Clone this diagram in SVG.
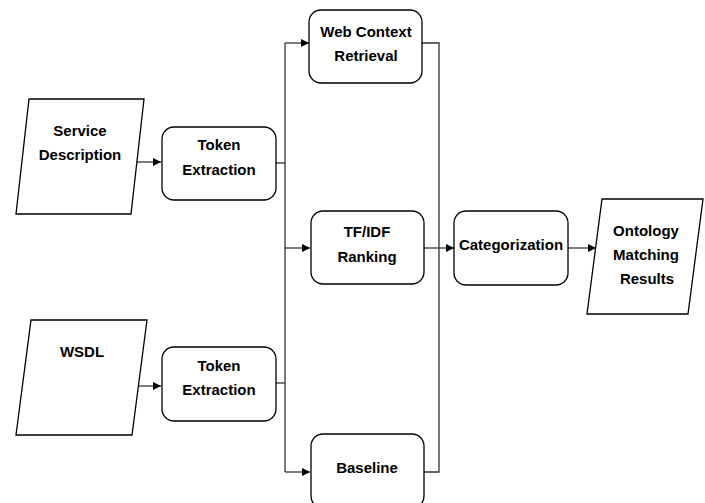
<svg xmlns="http://www.w3.org/2000/svg" width="705" height="503" viewBox="0 0 705 503">
<defs>
<marker id="arr" viewBox="0 0 10 10" refX="10" refY="5" markerWidth="9" markerHeight="8" markerUnits="userSpaceOnUse" orient="auto">
<path d="M0,0 L10,5 L0,10 z" fill="#000"/>
</marker>
<style>
.box{fill:#fff;stroke:#000;stroke-width:1.3}
.conn{fill:none;stroke:#333;stroke-width:1.3}
text{font-family:"Liberation Sans",Arial,sans-serif;font-weight:bold;font-size:15px;fill:#000;text-anchor:middle}
</style>
</defs>
<rect width="705" height="503" fill="#fff"/>
<g id="connectors">
<path class="conn" d="M137,162 H161" marker-end="url(#arr)"/>
<path class="conn" d="M139,386 H161" marker-end="url(#arr)"/>
<path class="conn" d="M276,163 H285"/>
<path class="conn" d="M276,383 H285"/>
<path class="conn" d="M285,43 V472"/>
<path class="conn" d="M285,43 H309" marker-end="url(#arr)"/>
<path class="conn" d="M285,248 H310" marker-end="url(#arr)"/>
<path class="conn" d="M285,472 H310" marker-end="url(#arr)"/>
<path class="conn" d="M422,43 H439 V472 H424"/>
<path class="conn" d="M424,248 H454" marker-end="url(#arr)"/>
<path class="conn" d="M568,248 H596" marker-end="url(#arr)"/>
</g>
<g id="service-description">
<polygon class="box" points="29,99 144,99 131,214 16,214"/>
<text x="80" y="136">Service</text>
<text x="80" y="160">Description</text>
</g>
<g id="wsdl">
<polygon class="box" points="31,320 147,320 132,435 16,435"/>
<text x="82" y="357">WSDL</text>
</g>
<g id="token-extraction-1">
<rect class="box" x="162" y="127" width="114" height="73" rx="12"/>
<text x="219" y="150">Token</text>
<text x="219" y="175">Extraction</text>
</g>
<g id="token-extraction-2">
<rect class="box" x="162" y="347" width="114" height="74" rx="12"/>
<text x="219" y="371">Token</text>
<text x="219" y="395">Extraction</text>
</g>
<g id="web-context-retrieval">
<rect class="box" x="309" y="10" width="113" height="73" rx="12"/>
<text x="366" y="37">Web Context</text>
<text x="366" y="61">Retrieval</text>
</g>
<g id="tfidf-ranking">
<rect class="box" x="311" y="211" width="113" height="73" rx="12"/>
<text x="367" y="237">TF/IDF</text>
<text x="367" y="262">Ranking</text>
</g>
<g id="baseline">
<rect class="box" x="311" y="434" width="113" height="74" rx="12"/>
<text x="367" y="473">Baseline</text>
</g>
<g id="categorization">
<rect class="box" x="454" y="211" width="114" height="74" rx="12"/>
<text x="511" y="250">Categorization</text>
</g>
<g id="ontology-matching-results">
<polygon class="box" points="602,199 703,199 688,314 587,314"/>
<text x="646" y="236">Ontology</text>
<text x="646" y="260">Matching</text>
<text x="647" y="284">Results</text>
</g>
</svg>
